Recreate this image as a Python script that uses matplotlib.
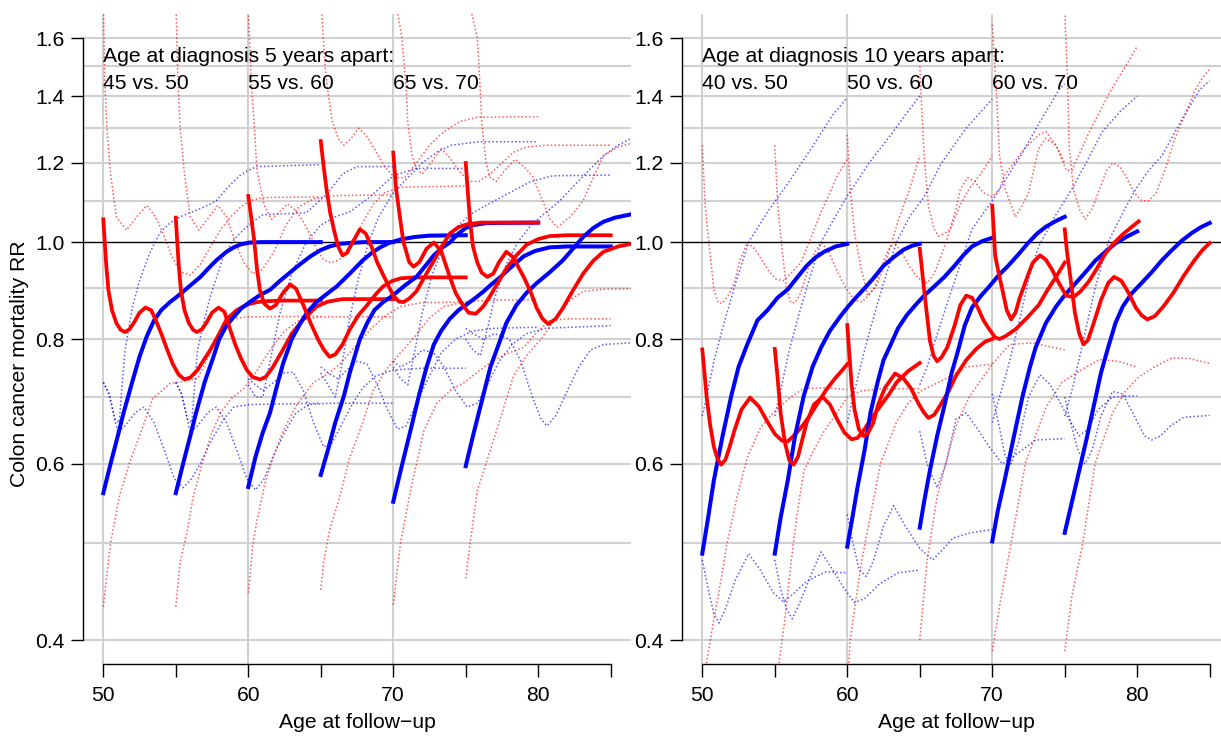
#Riesgo relativo de mortalidad por cancer de colon segun edad de seguimiento
import matplotlib.pyplot as plt
from matplotlib.ticker import NullLocator
import numpy as np

plt.rcParams['font.family'] = ['Liberation Sans', 'DejaVu Sans']
plt.rcParams['font.size'] = 15.2

#Textos
ylabel = "Colon cancer mortality RR"
xlabel = "Age at follow\u2212up"
titulo5 = "Age at diagnosis 5 years apart:"
titulo10 = "Age at diagnosis 10 years apart:"
pares5 = ["45 vs. 50", "55 vs. 60", "65 vs. 70"]
pares10 = ["40 vs. 50", "50 vs. 60", "60 vs. 70"]
pos_pares = [50, 60, 70]
yticks = [0.4, 0.6, 0.8, 1.0, 1.2, 1.4, 1.6]
ygrid = [0.4, 0.5, 0.6, 0.7, 0.8, 0.9, 1.1, 1.2, 1.3, 1.4, 1.5, 1.6]
xticks = [50, 55, 60, 65, 70, 75, 80, 85]
xlabels = ["50", "", "60", "", "70", "", "80", ""]

#--- 5 años: modelo azul (estimacion) ---
b5_50 = [(50.0,0.561),(50.5,0.60),(51.0,0.64),(51.4,0.675),(52.0,0.725),(52.5,0.768),(53.0,0.805),(53.5,0.835),(54.0,0.855),(54.6,0.871),(55.0,0.88),(55.5,0.892),(56.0,0.905),(56.7,0.923),(57.3,0.943),(57.8,0.959),(58.5,0.978),(59.0,0.988),(59.5,0.995),(60.1,0.999),(61.0,1.0),(65.0,1.0)]
b5_55 = [(55.0,0.561),(55.5,0.60),(56.0,0.64),(56.4,0.675),(57.0,0.725),(57.6,0.768),(58.0,0.80),(58.5,0.825),(59.0,0.842),(59.5,0.858),(60.1,0.871),(60.8,0.885),(61.5,0.896),(62.2,0.915),(62.9,0.933),(63.6,0.951),(64.3,0.968),(65.0,0.982),(65.6,0.99),(66.3,0.996),(67.0,0.998),(68.0,1.0),(70.0,1.0)]
b5_60 = [(60.0,0.569),(60.5,0.61),(61.0,0.645),(61.5,0.675),(62.0,0.72),(62.4,0.756),(63.0,0.80),(63.6,0.83),(64.1,0.852),(64.7,0.871),(65.4,0.887),(66.1,0.903),(67.0,0.93),(67.9,0.959),(68.5,0.975),(69.1,0.988),(69.7,0.998),(70.5,1.006),(71.5,1.012),(72.5,1.015),(75.0,1.016)]
b5_65 = [(65.0,0.585),(65.5,0.62),(66.0,0.66),(66.6,0.702),(67.0,0.74),(67.7,0.80),(68.2,0.83),(68.7,0.855),(69.3,0.871),(70.0,0.885),(70.8,0.905),(71.6,0.923),(72.3,0.95),(72.8,0.97),(73.4,0.988),(73.9,0.999),(74.5,1.02),(75.0,1.033),(75.5,1.04),(76.5,1.045),(80.0,1.046)]
b5_70 = [(70.0,0.55),(70.5,0.59),(71.2,0.649),(71.8,0.705),(72.3,0.75),(72.8,0.79),(73.3,0.815),(73.9,0.838),(74.5,0.855),(75.1,0.867),(75.7,0.88),(76.2,0.892),(76.8,0.908),(77.4,0.923),(78.2,0.946),(79.0,0.968),(79.8,0.98),(80.8,0.988),(82.0,0.99),(85.0,0.99)]
b5_75 = [(75.0,0.597),(75.5,0.64),(76.2,0.702),(76.7,0.75),(77.2,0.785),(77.8,0.83),(78.5,0.865),(79.2,0.89),(79.9,0.91),(80.8,0.933),(81.7,0.959),(82.4,0.985),(83.1,1.012),(83.8,1.033),(84.5,1.048),(85.3,1.058),(86.4,1.066),(88.0,1.07)]

#--- 5 años: modelo rojo (estimacion) ---
r5_50 = [(50.0,1.054),(50.1,1.0),(50.2,0.95),(50.35,0.896),(50.6,0.855),(50.9,0.83),(51.2,0.817),(51.5,0.813),(51.8,0.818),(52.1,0.83),(52.5,0.85),(52.9,0.86),(53.3,0.855),(53.6,0.837),(54.0,0.81),(54.4,0.781),(54.8,0.755),(55.2,0.737),(55.6,0.729),(56.0,0.732),(56.5,0.745),(57.0,0.765),(57.4,0.781),(58.0,0.81),(58.5,0.837),(59.2,0.855),(59.9,0.866),(60.6,0.871),(61.3,0.873),(62.5,0.874),(65.0,0.874)]
r5_55 = [(55.0,1.058),(55.1,1.0),(55.2,0.95),(55.35,0.896),(55.6,0.855),(55.9,0.83),(56.2,0.817),(56.45,0.813),(56.8,0.818),(57.1,0.83),(57.5,0.85),(57.95,0.86),(58.35,0.852),(58.75,0.818),(59.1,0.79),(59.5,0.765),(59.9,0.745),(60.3,0.733),(60.8,0.729),(61.2,0.733),(61.7,0.75),(62.4,0.781),(63.0,0.81),(63.8,0.837),(64.7,0.862),(65.5,0.872),(66.5,0.877),(70.0,0.877)]
r5_60 = [(60.0,1.112),(60.2,1.06),(60.4,1.006),(60.6,0.94),(60.8,0.896),(61.1,0.868),(61.5,0.858),(61.9,0.865),(62.4,0.89),(62.9,0.907),(63.3,0.898),(63.8,0.865),(64.3,0.83),(64.8,0.8),(65.2,0.781),(65.6,0.768),(66.0,0.772),(66.5,0.79),(67.0,0.818),(67.6,0.845),(68.2,0.865),(68.8,0.887),(69.3,0.903),(69.9,0.914),(70.5,0.92),(71.5,0.922),(75.0,0.922)]
r5_65 = [(65.0,1.262),(65.2,1.19),(65.4,1.129),(65.65,1.07),(65.9,1.03),(66.2,0.99),(66.5,0.97),(66.8,0.975),(67.2,1.0),(67.7,1.03),(68.1,1.02),(68.5,0.99),(68.9,0.954),(69.5,0.915),(70.0,0.884),(70.4,0.872),(70.7,0.871),(71.1,0.878),(71.6,0.893),(72.2,0.925),(72.8,0.958),(73.4,0.993),(73.9,1.02),(74.5,1.035),(75.1,1.042),(76.0,1.046),(80.0,1.046)]
r5_70 = [(70.0,1.229),(70.2,1.13),(70.5,1.049),(70.7,1.0),(70.9,0.978),(71.1,0.955),(71.4,0.945),(71.8,0.955),(72.3,0.985),(72.8,0.999),(73.3,0.98),(73.9,0.923),(74.3,0.89),(74.8,0.865),(75.2,0.85),(75.7,0.848),(76.2,0.862),(76.7,0.884),(77.2,0.91),(77.8,0.941),(78.5,0.97),(79.2,0.994),(80.0,1.007),(80.8,1.014),(82.0,1.016),(85.0,1.016)]
r5_75 = [(75.0,1.2),(75.15,1.12),(75.3,1.049),(75.5,0.99),(75.8,0.954),(76.1,0.932),(76.5,0.923),(76.9,0.93),(77.3,0.955),(77.8,0.978),(78.3,0.965),(78.7,0.94),(79.0,0.923),(79.5,0.89),(79.9,0.859),(80.3,0.838),(80.7,0.828),(81.2,0.838),(81.7,0.859),(82.4,0.895),(83.1,0.93),(83.8,0.958),(84.5,0.978),(85.5,0.99),(86.4,0.996),(88.0,1.0)]

#--- 5 años: intervalos de confianza azules ---
bh5_50 = [(50.0,0.724),(50.4,0.705),(50.8,0.665),(51.1,0.66),(51.3,0.72),(51.5,0.78),(52.0,0.86),(52.5,0.915),(53.2,0.975),(53.9,1.022),(54.6,1.045),(55.3,1.06),(56.2,1.073),(57.0,1.085),(57.8,1.1),(58.6,1.135),(59.4,1.165),(60.0,1.18),(60.6,1.19),(65.0,1.195)]
bh5_55 = [(55.0,0.724),(55.4,0.705),(55.8,0.665),(56.1,0.66),(56.3,0.72),(56.5,0.78),(57.0,0.84),(57.4,0.884),(57.9,0.93),(58.3,0.97),(59.0,1.005),(59.7,1.03),(60.4,1.05),(61.0,1.065),(64.0,1.07),(65.5,1.12),(66.5,1.17),(67.5,1.19),(70.0,1.19)]
bh5_60 = [(60.0,0.72),(60.5,0.70),(61.0,0.70),(61.5,0.76),(62.2,0.85),(63.0,0.93),(64.0,1.0),(65.0,1.04),(66.0,1.06),(67.0,1.072),(68.4,1.11),(70.0,1.165),(71.6,1.185),(75.0,1.185)]
bh5_65 = [(65.0,0.74),(65.5,0.72),(66.0,0.70),(66.5,0.76),(67.0,0.84),(67.6,0.92),(68.3,1.0),(69.0,1.06),(70.0,1.12),(71.0,1.16),(72.0,1.2),(73.0,1.23),(74.0,1.25),(75.9,1.26),(80.0,1.26)]
bh5_70 = [(70.0,0.75),(70.5,0.73),(71.0,0.72),(71.5,0.78),(72.0,0.85),(72.7,0.93),(73.5,0.99),(74.5,1.04),(75.5,1.07),(76.5,1.09),(77.5,1.11),(78.5,1.13),(79.5,1.15),(81.0,1.165),(85.0,1.167)]
bh5_75 = [(75.0,0.80),(75.5,0.78),(76.0,0.77),(76.5,0.82),(77.0,0.88),(77.8,0.95),(78.6,1.0),(79.5,1.04),(80.5,1.07),(81.5,1.1),(82.5,1.14),(83.5,1.18),(84.5,1.22),(85.5,1.25),(86.4,1.27),(88.0,1.29)]
bl5_50 = [(50.0,0.724),(50.4,0.705),(50.8,0.665),(51.0,0.645),(51.5,0.655),(52.2,0.675),(52.8,0.684),(53.5,0.66),(54.2,0.62),(54.9,0.58),(55.5,0.568),(56.1,0.58),(56.7,0.601),(57.5,0.635),(58.3,0.665),(59.0,0.684),(60.1,0.688),(65.0,0.69)]
bl5_55 = [(55.0,0.724),(55.4,0.705),(55.8,0.665),(56.0,0.645),(56.5,0.655),(57.2,0.675),(57.8,0.684),(58.5,0.66),(59.2,0.62),(59.9,0.58),(60.5,0.565),(61.1,0.58),(61.7,0.61),(62.5,0.645),(63.3,0.675),(64.2,0.688),(65.5,0.69),(70.0,0.69)]
bl5_60 = [(60.0,0.73),(60.5,0.72),(61.0,0.71),(61.8,0.725),(62.5,0.74),(63.1,0.741),(63.8,0.71),(64.5,0.66),(65.2,0.624),(65.8,0.63),(66.5,0.66),(67.2,0.69),(67.9,0.715),(68.8,0.735),(70.0,0.745),(72.0,0.748),(75.0,0.748)]
bl5_65 = [(65.0,0.75),(65.5,0.74),(66.2,0.73),(66.8,0.745),(67.5,0.76),(68.2,0.755),(68.9,0.72),(69.6,0.68),(70.3,0.65),(70.9,0.655),(71.6,0.69),(72.4,0.73),(73.3,0.775),(74.3,0.80),(75.5,0.815),(77.0,0.82),(80.0,0.822)]
bl5_70 = [(70.0,0.76),(70.5,0.75),(71.2,0.76),(72.0,0.78),(72.8,0.775),(73.5,0.75),(74.3,0.71),(75.1,0.684),(75.8,0.69),(76.5,0.72),(77.3,0.76),(78.2,0.79),(79.2,0.81),(80.5,0.82),(85.0,0.825)]
bl5_75 = [(75.0,0.82),(75.5,0.81),(76.2,0.80),(77.0,0.81),(78.0,0.80),(78.8,0.76),(79.6,0.70),(80.2,0.665),(80.6,0.655),(81.2,0.67),(82.0,0.71),(82.8,0.75),(83.6,0.78),(84.5,0.79),(86.4,0.793),(88.0,0.795)]

#--- 5 años: intervalos de confianza rojos ---
rh5_50 = [(50.0,1.75),(50.1,1.45),(50.25,1.3),(50.5,1.17),(50.9,1.06),(51.6,1.028),(52.3,1.06),(53.0,1.088),(53.6,1.06),(54.1,1.022),(54.7,0.97),(55.3,0.934),(56.0,0.927),(56.7,0.95),(57.4,0.99),(58.1,1.03),(58.8,1.06),(59.5,1.085),(60.1,1.1),(61.0,1.108),(65.0,1.11)]
rh5_55 = [(55.0,1.75),(55.15,1.45),(55.3,1.3),(55.6,1.17),(56.0,1.06),(56.6,1.028),(57.3,1.06),(57.9,1.088),(58.5,1.06),(59.1,1.0),(59.7,0.954),(60.3,0.93),(61.0,0.94),(61.8,0.98),(62.6,1.04),(63.5,1.085),(64.5,1.105),(66.0,1.113),(70.0,1.115)]
rh5_60 = [(60.0,1.7),(60.25,1.41),(60.4,1.32),(60.6,1.18),(61.1,1.088),(61.6,1.054),(62.1,1.07),(62.7,1.092),(63.3,1.075),(63.8,1.048),(64.3,1.015),(64.7,0.985),(65.2,0.96),(65.7,0.954),(66.3,0.96),(67.0,0.99),(67.8,1.04),(68.6,1.09),(69.4,1.12),(70.5,1.135),(75.0,1.138)]
rh5_65 = [(65.0,1.75),(65.3,1.5),(65.5,1.41),(65.8,1.32),(66.2,1.27),(66.6,1.25),(67.1,1.27),(67.6,1.3),(68.1,1.28),(68.7,1.24),(69.4,1.19),(70.1,1.16),(70.8,1.16),(71.6,1.2),(72.5,1.25),(73.5,1.29),(74.6,1.32),(75.8,1.333),(80.0,1.335)]
rh5_70 = [(70.0,1.8),(70.6,1.6),(70.9,1.42),(71.0,1.32),(71.3,1.22),(71.6,1.185),(72.0,1.17),(72.6,1.2),(73.3,1.24),(73.9,1.215),(74.5,1.18),(75.2,1.15),(75.9,1.15),(76.7,1.17),(77.5,1.2),(78.3,1.23),(79.2,1.245),(80.5,1.25),(85.0,1.25)]
rh5_75 = [(75.0,1.8),(75.8,1.6),(76.0,1.42),(76.1,1.32),(76.4,1.2),(76.7,1.16),(77.1,1.15),(77.7,1.18),(78.4,1.21),(79.0,1.19),(79.6,1.165),(80.3,1.1),(80.8,1.055),(81.3,1.035),(82.2,1.06),(83.1,1.1),(83.8,1.16),(84.5,1.22),(85.5,1.245),(86.4,1.255),(88.0,1.26)]
rl5_50 = [(50.0,0.432),(50.5,0.5),(51.1,0.556),(51.8,0.601),(52.8,0.658),(53.4,0.697),(54.6,0.722),(56.5,0.73),(57.3,0.77),(58.0,0.81),(58.8,0.838),(60.0,0.842),(65.0,0.843)]
rl5_55 = [(55.0,0.432),(55.3,0.478),(55.8,0.515),(56.2,0.556),(56.7,0.592),(57.4,0.64),(58.1,0.675),(58.8,0.697),(59.7,0.714),(60.5,0.74),(61.5,0.78),(62.5,0.815),(63.5,0.835),(65.0,0.842),(70.0,0.842)]
rl5_60 = [(60.0,0.446),(60.3,0.496),(60.6,0.527),(61.2,0.578),(61.8,0.614),(62.4,0.647),(63.3,0.686),(64.5,0.724),(65.6,0.74),(66.5,0.76),(67.5,0.79),(68.5,0.82),(69.5,0.845),(70.5,0.862),(72.0,0.87),(75.0,0.871)]
rl5_65 = [(65.0,0.449),(65.2,0.478),(65.6,0.515),(66.3,0.556),(67.0,0.609),(67.9,0.66),(68.6,0.71),(69.5,0.745),(70.5,0.775),(71.5,0.805),(72.5,0.84),(73.5,0.862),(75.0,0.872),(77.0,0.875),(80.0,0.876)]
rl5_70 = [(70.0,0.434),(70.5,0.5),(71.2,0.565),(72.1,0.647),(73.0,0.69),(74.0,0.712),(74.9,0.724),(76.0,0.745),(77.0,0.763),(78.0,0.775),(79.0,0.785),(80.0,0.815),(80.8,0.835),(82.0,0.838),(85.0,0.838)]
rl5_75 = [(75.0,0.461),(75.3,0.5),(75.8,0.564),(76.4,0.6),(77.3,0.66),(78.3,0.735),(79.2,0.77),(80.2,0.8),(81.2,0.84),(82.2,0.875),(83.1,0.893),(84.5,0.897),(86.4,0.898),(88.0,0.9)]

#--- 10 años: modelo azul (estimacion) ---
b10_50 = [(50.0,0.488),(50.4,0.53),(50.8,0.578),(51.4,0.64),(52.0,0.702),(52.5,0.75),(53.1,0.79),(53.8,0.835),(54.5,0.855),(55.2,0.88),(55.9,0.897),(56.5,0.92),(57.2,0.947),(57.8,0.965),(58.4,0.978),(59.2,0.99),(60.0,0.996)]
b10_55 = [(55.0,0.488),(55.4,0.53),(55.9,0.578),(56.4,0.64),(57.0,0.702),(57.6,0.75),(58.2,0.785),(58.8,0.815),(59.5,0.842),(60.0,0.86),(60.5,0.877),(61.1,0.896),(61.8,0.92),(62.5,0.947),(63.2,0.966),(63.9,0.983),(64.5,0.992),(65.0,0.996)]
b10_60 = [(60.0,0.496),(60.35,0.53),(60.7,0.568),(61.2,0.62),(61.6,0.675),(62.1,0.725),(62.5,0.762),(63.0,0.79),(63.5,0.82),(64.1,0.845),(64.7,0.865),(65.3,0.884),(66.0,0.903),(66.7,0.923),(67.4,0.947),(68.0,0.97),(68.6,0.99),(69.3,1.002),(70.0,1.01)]
b10_65 = [(65.0,0.518),(65.3,0.55),(65.7,0.591),(66.2,0.64),(66.7,0.686),(67.2,0.74),(67.6,0.775),(68.1,0.825),(68.6,0.86),(69.2,0.883),(69.8,0.903),(70.4,0.925),(71.1,0.947),(71.8,0.972),(72.5,0.999),(73.1,1.02),(73.7,1.036),(74.4,1.05),(75.0,1.06)]
b10_70 = [(70.0,0.502),(70.4,0.54),(70.9,0.582),(71.5,0.64),(72.1,0.702),(72.6,0.75),(73.0,0.785),(73.7,0.83),(74.4,0.862),(75.0,0.885),(75.7,0.908),(76.4,0.932),(77.1,0.958),(77.8,0.978),(78.5,0.997),(79.3,1.013),(80.0,1.025)]
b10_75 = [(75.0,0.512),(75.5,0.55),(76.0,0.591),(76.5,0.635),(76.9,0.675),(77.5,0.74),(78.0,0.785),(78.5,0.83),(79.0,0.862),(79.6,0.888),(80.3,0.91),(81.0,0.933),(81.7,0.959),(82.4,0.982),(83.1,1.004),(83.8,1.022),(84.4,1.035),(85.0,1.045)]

#--- 10 años: modelo rojo (estimacion) ---
r10_50 = [(50.0,0.781),(50.15,0.74),(50.3,0.70),(50.55,0.655),(50.8,0.624),(51.05,0.607),(51.3,0.599),(51.6,0.606),(51.9,0.625),(52.2,0.647),(52.7,0.68),(53.3,0.699),(53.9,0.685),(54.5,0.661),(55.0,0.643),(55.5,0.633),(55.9,0.632),(56.3,0.64),(56.8,0.652),(57.4,0.67),(57.9,0.688),(58.5,0.71),(59.1,0.729),(59.6,0.743),(60.0,0.755)]
r10_55 = [(55.0,0.782),(55.2,0.73),(55.4,0.675),(55.7,0.63),(56.0,0.605),(56.3,0.599),(56.6,0.61),(56.9,0.635),(57.2,0.66),(57.7,0.688),(58.3,0.70),(58.8,0.688),(59.3,0.665),(59.8,0.645),(60.3,0.635),(60.7,0.637),(61.1,0.647),(61.7,0.668),(62.3,0.686),(62.9,0.705),(63.4,0.724),(64.2,0.743),(65.0,0.757)]
r10_60 = [(60.0,0.826),(60.15,0.77),(60.3,0.72),(60.5,0.68),(60.8,0.65),(61.1,0.64),(61.4,0.643),(61.8,0.66),(62.1,0.686),(62.6,0.715),(63.3,0.739),(63.9,0.73),(64.4,0.714),(64.9,0.69),(65.3,0.675),(65.6,0.667),(66.0,0.672),(66.5,0.69),(67.0,0.71),(67.5,0.735),(68.2,0.762),(68.9,0.782),(69.5,0.795),(70.0,0.80)]
r10_65 = [(65.0,0.985),(65.15,0.94),(65.3,0.896),(65.5,0.845),(65.7,0.797),(65.95,0.77),(66.2,0.76),(66.5,0.767),(66.9,0.785),(67.4,0.825),(67.8,0.865),(68.2,0.884),(68.6,0.88),(69.0,0.86),(69.4,0.835),(69.8,0.818),(70.2,0.803),(70.5,0.80),(70.9,0.805),(71.6,0.818),(72.4,0.84),(73.2,0.865),(73.8,0.895),(74.4,0.923),(75.0,0.954)]
r10_70 = [(70.0,1.087),(70.1,1.03),(70.2,0.97),(70.45,0.93),(70.7,0.896),(71.0,0.855),(71.3,0.837),(71.6,0.85),(71.9,0.88),(72.1,0.896),(72.5,0.93),(72.8,0.954),(73.3,0.97),(73.7,0.96),(74.1,0.94),(74.6,0.91),(75.1,0.884),(75.6,0.881),(76.1,0.893),(76.7,0.915),(77.2,0.94),(77.8,0.974),(78.4,0.998),(79.0,1.018),(79.6,1.035),(80.1,1.049)]
r10_75 = [(75.0,1.03),(75.15,0.98),(75.4,0.92),(75.7,0.85),(76.0,0.81),(76.3,0.79),(76.6,0.798),(77.0,0.83),(77.5,0.875),(78.0,0.91),(78.4,0.923),(78.9,0.915),(79.4,0.89),(79.9,0.86),(80.3,0.845),(80.7,0.837),(81.2,0.843),(81.8,0.862),(82.5,0.89),(83.2,0.925),(83.9,0.957),(84.5,0.982),(85.0,0.998)]

#--- 10 años: intervalos de confianza azules ---
bh10_50 = [(50.0,0.67),(50.3,0.70),(50.8,0.76),(51.5,0.83),(52.3,0.91),(53.2,1.0),(54.5,1.072),(56.0,1.15),(57.5,1.24),(59.0,1.34),(60.0,1.395)]
bh10_55 = [(55.0,0.67),(55.4,0.71),(56.0,0.78),(56.6,0.84),(57.4,0.92),(58.2,1.0),(59.0,1.05),(60.0,1.112),(61.5,1.2),(63.0,1.28),(64.0,1.34),(65.0,1.4)]
bh10_60 = [(60.0,0.66),(60.4,0.70),(61.0,0.76),(61.6,0.82),(62.5,0.91),(63.4,1.0),(64.3,1.06),(65.3,1.11),(66.5,1.2),(68.2,1.3),(70.0,1.39)]
bh10_65 = [(65.0,0.72),(65.5,0.75),(66.1,0.80),(66.8,0.86),(67.5,0.923),(68.6,1.03),(70.0,1.1),(71.0,1.16),(72.1,1.23),(73.3,1.32),(74.6,1.42),(75.0,1.44)]
bh10_70 = [(70.0,0.66),(70.5,0.70),(71.2,0.76),(72.0,0.85),(72.6,0.93),(73.2,0.99),(74.3,1.06),(75.5,1.13),(76.6,1.21),(77.6,1.29),(78.8,1.35),(80.0,1.4)]
bh10_75 = [(75.0,0.67),(75.6,0.72),(76.3,0.80),(77.1,0.90),(78.0,1.0),(79.0,1.07),(79.9,1.13),(80.8,1.18),(81.7,1.22),(83.0,1.32),(84.3,1.42),(85.0,1.45)]
bl10_50 = [(50.0,0.481),(50.4,0.45),(50.8,0.425),(51.15,0.416),(51.6,0.43),(52.3,0.46),(53.2,0.488),(54.0,0.47),(54.9,0.446),(55.6,0.437),(56.3,0.445),(57.2,0.458),(58.5,0.468),(60.0,0.467)]
bl10_55 = [(55.0,0.481),(55.4,0.45),(55.8,0.43),(56.2,0.42),(56.7,0.435),(57.5,0.465),(58.2,0.49),(59.0,0.47),(59.8,0.45),(60.5,0.436),(61.2,0.44),(62.2,0.455),(63.5,0.467),(65.0,0.47)]
bl10_60 = [(60.0,0.534),(60.4,0.50),(60.8,0.471),(61.3,0.463),(61.8,0.48),(62.5,0.52),(63.2,0.545),(64.0,0.52),(65.0,0.494),(65.9,0.481),(66.6,0.493),(67.3,0.506),(68.5,0.512),(70.0,0.516)]
bl10_65 = [(65.0,0.647),(65.5,0.60),(66.2,0.568),(66.8,0.60),(67.5,0.665),(68.2,0.675),(69.0,0.65),(69.8,0.624),(70.7,0.60),(71.4,0.61),(72.1,0.62),(73.0,0.634),(75.0,0.636)]
bl10_70 = [(70.0,0.705),(70.5,0.652),(70.9,0.61),(71.3,0.60),(71.8,0.63),(72.5,0.70),(73.3,0.737),(74.0,0.72),(74.7,0.69),(75.3,0.665),(76.0,0.64),(76.6,0.65),(77.3,0.68),(78.3,0.70),(80.0,0.702)]
bl10_75 = [(75.0,0.70),(75.4,0.66),(75.9,0.62),(76.4,0.60),(76.9,0.62),(77.5,0.67),(78.3,0.709),(79.0,0.705),(79.8,0.67),(80.5,0.64),(81.0,0.634),(81.6,0.64),(82.3,0.655),(83.2,0.668),(85.0,0.671)]

#--- 10 años: intervalos de confianza rojos ---
rh10_50 = [(50.0,1.25),(50.2,1.086),(50.5,0.985),(50.8,0.896),(51.1,0.87),(51.4,0.869),(51.8,0.885),(52.2,0.91),(52.6,0.96),(53.1,0.999),(53.6,0.985),(54.1,0.96),(54.6,0.935),(55.1,0.918),(55.6,0.915),(56.1,0.93),(56.8,0.954),(57.5,1.01),(58.2,1.073),(58.8,1.12),(59.3,1.165),(60.0,1.21)]
rh10_55 = [(55.0,1.25),(55.2,1.09),(55.5,0.985),(55.8,0.90),(56.1,0.87),(56.4,0.87),(56.8,0.89),(57.3,0.94),(57.8,0.98),(58.2,0.999),(58.7,0.98),(59.3,0.935),(59.9,0.90),(60.5,0.875),(61.0,0.871),(61.5,0.885),(62.1,0.91),(62.8,0.97),(63.5,1.05),(64.3,1.13),(65.0,1.22)]
rh10_60 = [(60.0,1.28),(60.2,1.13),(60.5,1.022),(60.9,0.95),(61.4,0.884),(61.9,0.90),(62.3,0.941),(62.8,0.98),(63.2,1.0),(63.7,0.98),(64.3,0.945),(64.9,0.92),(65.5,0.91),(66.0,0.93),(66.6,0.98),(67.2,1.04),(67.8,1.09),(68.4,1.13),(69.2,1.17),(70.0,1.22)]
rh10_65 = [(65.0,1.5),(65.1,1.4),(65.3,1.22),(65.6,1.086),(66.0,1.03),(66.3,1.014),(66.7,1.02),(67.1,1.03),(67.5,1.08),(67.8,1.13),(68.3,1.16),(68.8,1.15),(69.4,1.12),(70.0,1.11),(70.5,1.13),(70.9,1.17),(71.5,1.2),(72.2,1.24),(73.2,1.28),(73.7,1.29),(74.4,1.25),(75.0,1.2)]
rh10_70 = [(70.0,1.65),(70.3,1.4),(70.5,1.22),(70.9,1.13),(71.6,1.06),(72.1,1.09),(72.5,1.12),(73.2,1.24),(73.7,1.27),(74.4,1.25),(75.1,1.18),(75.5,1.18),(76.7,1.29),(78.2,1.42),(79.2,1.5),(80.0,1.57)]
rh10_75 = [(75.0,1.7),(75.2,1.45),(75.3,1.25),(75.6,1.13),(76.0,1.08),(76.4,1.054),(76.9,1.08),(77.4,1.13),(77.9,1.18),(78.3,1.2),(78.8,1.19),(79.2,1.165),(79.8,1.12),(80.3,1.1),(80.8,1.1),(81.3,1.12),(82.0,1.19),(82.6,1.27),(83.3,1.34),(83.9,1.41),(84.5,1.46),(85.0,1.49)]
rl10_50 = [(50.0,0.36),(50.3,0.38),(50.8,0.42),(51.3,0.46),(51.7,0.50),(52.4,0.556),(53.1,0.609),(54.0,0.652),(54.9,0.675),(56.1,0.70),(57.0,0.714),(58.5,0.715),(60.0,0.712)]
rl10_55 = [(55.0,0.36),(55.3,0.38),(55.7,0.42),(56.1,0.475),(56.5,0.53),(57.0,0.59),(57.7,0.62),(58.4,0.647),(59.2,0.672),(60.0,0.70),(61.0,0.71),(62.1,0.713),(65.0,0.714)]
rl10_60 = [(60.0,0.36),(60.2,0.40),(60.5,0.43),(61.0,0.48),(61.4,0.515),(62.3,0.601),(63.4,0.661),(64.2,0.69),(65.0,0.709),(66.7,0.729),(68.2,0.75),(70.0,0.755)]
rl10_65 = [(65.0,0.40),(65.5,0.48),(66.2,0.557),(67.1,0.624),(67.5,0.655),(68.4,0.70),(70.0,0.755),(71.2,0.79),(72.8,0.793),(75.0,0.78)]
rl10_70 = [(70.0,0.39),(70.5,0.432),(71.3,0.50),(72.3,0.602),(73.7,0.683),(74.8,0.724),(76.2,0.746),(77.4,0.763),(78.7,0.76),(80.0,0.75)]
rl10_75 = [(75.0,0.39),(75.5,0.443),(76.2,0.496),(77.1,0.601),(78.3,0.675),(79.2,0.71),(80.1,0.733),(81.2,0.75),(82.4,0.766),(83.6,0.765),(85.0,0.756)]

#Agrupar por edad de inicio
ajustes5 = [(b5_50, r5_50), (b5_55, r5_55), (b5_60, r5_60), (b5_65, r5_65), (b5_70, r5_70), (b5_75, r5_75)]
ic5 = [bh5_50, bh5_55, bh5_60, bh5_65, bh5_70, bh5_75, bl5_50, bl5_55, bl5_60, bl5_65, bl5_70, bl5_75,
       rh5_50, rh5_55, rh5_60, rh5_65, rh5_70, rh5_75, rl5_50, rl5_55, rl5_60, rl5_65, rl5_70, rl5_75]
ajustes10 = [(b10_50, r10_50), (b10_55, r10_55), (b10_60, r10_60), (b10_65, r10_65), (b10_70, r10_70), (b10_75, r10_75)]
ic10 = [bh10_50, bh10_55, bh10_60, bh10_65, bh10_70, bh10_75, bl10_50, bl10_55, bl10_60, bl10_65, bl10_70, bl10_75,
        rh10_50, rh10_55, rh10_60, rh10_65, rh10_70, rh10_75, rl10_50, rl10_55, rl10_60, rl10_65, rl10_70, rl10_75]
n_azul = 12


def linea(ax, curva, **kw):
    a = np.array(curva)
    ax.plot(a[:, 0], a[:, 1], **kw)


def panel(ax, ajustes, ic, titulo, pares):
    ax.set_yscale('log')
    ax.set_xlim(48.6, 86.4)
    ax.set_ylim(0.3785, 1.691)
    #Rejilla
    for v in ygrid:
        ax.axhline(v, color='#d0d0d0', lw=1.5, zorder=0)
    for a in pos_pares:
        ax.axvline(a, color='#d0d0d0', lw=1.5, zorder=0)
    ax.axhline(1.0, color='black', lw=1.0, zorder=0.5)
    #Intervalos de confianza (punteados)
    for i, c in enumerate(ic):
        col = 'blue' if i < n_azul else 'red'
        linea(ax, c, color=col, alpha=0.65, lw=1.1, dashes=(1, 1.5), zorder=1)
    #Estimaciones
    for azul, rojo in ajustes:
        linea(ax, azul, color='blue', lw=2.9, zorder=2, solid_joinstyle='round')
        linea(ax, rojo, color='red', lw=2.7, zorder=2, solid_joinstyle='round')
    #Textos
    ax.text(50, 1.535, titulo, ha='left', va='center')
    for x, t in zip(pos_pares, pares):
        ax.text(x, 1.44, t, ha='left', va='center')
    #Ejes estilo R
    ax.set_yticks(yticks)
    ax.set_yticklabels([f"{v:.1f}" for v in yticks])
    ax.yaxis.set_minor_locator(NullLocator())
    ax.set_xticks(xticks)
    ax.set_xticklabels(xlabels)
    ax.tick_params(length=9, width=1.0, pad=4)
    ax.tick_params(axis='x', pad=7)
    for s in ['top', 'right']:
        ax.spines[s].set_visible(False)
    ax.spines['left'].set_bounds(0.4, 1.6)
    ax.spines['bottom'].set_bounds(50, 85)
    ax.spines['left'].set_linewidth(1.0)
    ax.spines['bottom'].set_linewidth(1.0)
    ax.patch.set_visible(False)


fig = plt.figure(figsize=(12.21, 7.36), dpi=100)
ax5 = fig.add_axes([83/1221, 72/736, 548/1221, 650/736])
ax10 = fig.add_axes([682/1221, 72/736, 548/1221, 650/736])
panel(ax5, ajustes5, ic5, titulo5, pares5)
panel(ax10, ajustes10, ic10, titulo10, pares10)

fig.text(20/1221, 1 - 364/736, ylabel, rotation=90, ha='center', va='center')
fig.text(357/1221, 1 - 723/736, xlabel, ha='center', va='center')
fig.text(956/1221, 1 - 723/736, xlabel, ha='center', va='center')

fig.savefig("out.png", dpi=100)
